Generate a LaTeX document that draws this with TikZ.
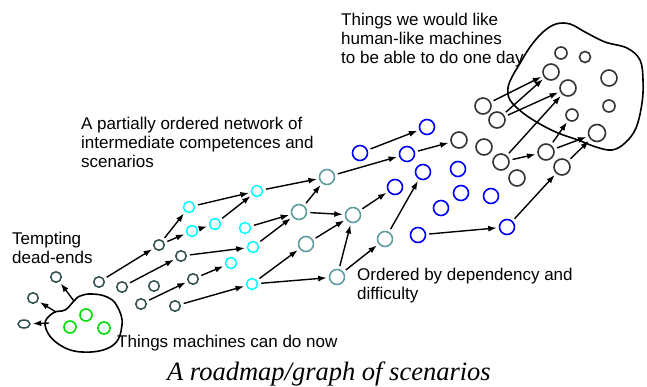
\documentclass[tikz,border=0pt]{standalone}
\usepackage{fontspec}
\setmainfont{Liberation Sans}
\newfontfamily\capfont{Liberation Serif}
\usetikzlibrary{arrows.meta,shapes.geometric}
\definecolor{dslate}{HTML}{2F4F4F}
\definecolor{cadet}{HTML}{5F9EA0}
\definecolor{cyanc}{HTML}{00FFFF}
\definecolor{bluec}{HTML}{0000FF}
\definecolor{greenc}{HTML}{00E000}
\definecolor{blackc}{HTML}{333333}
\tikzset{
  ds/.style={circle,draw=dslate,line width=1.5pt,minimum size=10.5pt,inner sep=0pt},
  cy/.style={circle,draw=cyanc,line width=1.5pt,minimum size=11pt,inner sep=0pt},
  gr/.style={circle,draw=greenc,line width=1.6pt,minimum size=12pt,inner sep=0pt},
  te/.style={circle,draw=cadet,line width=1.6pt,minimum size=15pt,inner sep=0pt},
  bl/.style={circle,draw=bluec,line width=1.6pt,minimum size=15pt,inner sep=0pt},
  bk/.style={circle,draw=blackc,line width=1.6pt,minimum size=16pt,inner sep=0pt},
  arr/.style={-{Latex[length=8.5pt,width=6pt]},line width=1.4pt,shorten >=2pt,shorten <=3pt},
  lbl/.style={anchor=north west,inner sep=0pt,align=left,font=\fontsize{17}{19}\selectfont},
  blob/.style={line width=1.6pt,black}
}
\begin{document}
\begin{tikzpicture}[x=1pt,y=-1pt]
\useasboundingbox (0,0) rectangle (647,386);
% blobs
\draw[blob] plot[smooth cycle,tension=0.7] coordinates{(45,325) (53,313) (65,310) (73,302) (80,296) (92,294) (107,297) (117,306) (122,325) (112,346) (82,352) (57,343)};
\draw[blob] plot[smooth cycle,tension=0.6] coordinates{(519,65) (530,47) (543,32) (556,24) (570,24) (585,32) (605,42) (627,48) (640,60) (643,80) (642,103) (636,128) (625,143) (612,150) (596,147) (578,140) (558,133) (540,124) (523,113) (510,100) (508,88) (512,77)};
\coordinate (o1) at (74,301);
\coordinate (o2) at (56,312);
\coordinate (o3) at (49,323);
% dead ends
\node[ds] (d1) at (56,277) {};
\node[ds] (d2) at (33,298) {};
\node[ellipse,draw=dslate,line width=1.5pt,minimum width=12pt,minimum height=8pt,inner sep=0pt] (d3) at (24,324) {};
% green
\node[gr] (g1) at (86,315) {};
\node[gr] (g2) at (70,327) {};
\node[gr] (g3) at (104,328) {};
% dark small
\node[ds] (A) at (99,282) {};
\node[ds] (B) at (122,287) {};
\node[ds] (C) at (154,286) {};
\node[ds] (D) at (141,304) {};
\node[ds] (E) at (175,306) {};
\node[ds] (F) at (159,245) {};
\node[ds] (G) at (181,256) {};
\node[ds] (H) at (193,279) {};
% cyan
\node[cy] (cy1) at (189,207) {};
\node[cy] (cy2) at (192,231) {};
\node[cy] (c1) at (257,191) {};
\node[cy] (c2) at (215,224) {};
\node[cy] (c3) at (245,228) {};
\node[cy] (c4) at (253,247) {};
\node[cy] (c5) at (231,263) {};
\node[cy] (c6) at (252,284) {};
% teal
\node[te] (t1) at (327,177) {};
\node[te] (t2) at (299,212) {};
\node[te] (t3) at (306,244) {};
\node[te] (t4) at (337,277) {};
\node[te] (t5) at (353,215) {};
\node[te] (t6) at (385,239) {};
% blue
\node[bl] (b1) at (360,153) {};
\node[bl] (b2) at (407,154) {};
\node[bl] (b3) at (427,127) {};
\node[bl] (b4) at (395,187) {};
\node[bl] (b5) at (423,172) {};
\node[bl] (b6) at (458,169) {};
\node[bl] (b7) at (461,193) {};
\node[bl] (b8) at (491,196) {};
\node[bl] (b9) at (441,208) {};
\node[bl] (b10) at (418,235) {};
\node[bl] (b11) at (507,227) {};
% black
\node[bk] (k1) at (459,140) {};
\node[bk] (k2) at (483,106) {};
\node[bk] (k3) at (497,120) {};
\node[bk] (k4) at (484,147) {};
\node[bk] (k5) at (501,162) {};
\node[bk] (k6) at (517,178) {};
\node[bk] (k7) at (546,152) {};
\node[bk] (k8) at (562,167) {};
\node[bk,minimum size=12pt] (i1) at (561,53) {};
\node[bk,minimum size=11pt] (i2) at (585,57) {};
\node[bk] (i3) at (551,72) {};
\node[bk] (i4) at (568,88) {};
\node[bk] (i5) at (609,78) {};
\node[bk,minimum size=12pt] (i6) at (572,115) {};
\node[bk,minimum size=12pt] (i7) at (609,106) {};
\node[bk,minimum size=17pt] (i8) at (597,133) {};
% arrows
\draw[arr,shorten <=0pt] (o1) -- (d1);
\draw[arr,shorten <=0pt] (o2) -- (d2);
\draw[arr,shorten <=0pt] (o3) -- (d3);
\draw[arr] (A) -- (F);
\draw[arr] (B) -- (G);
\draw[arr] (D) -- (H);
\draw[arr] (E) -- (c6);
\draw[arr] (F) -- (cy1);
\draw[arr] (F) -- (cy2);
\draw[arr] (G) -- (c4);
\draw[arr] (H) -- (c5);
\draw[arr] (cy1) -- (c1);
\draw[arr] (cy2) -- (c2);
\draw[arr] (c2) -- (c1);
\draw[arr] (c1) -- (t1);
\draw[arr] (c3) -- (t2);
\draw[arr] (c4) -- (t2);
\draw[arr] (t2) -- (t1);
\draw[arr] (c6) -- (t3);
\draw[arr] (c6) -- (t4);
\draw[arr] (t2) -- (t5);
\draw[arr] (t3) -- (t5);
\draw[arr] (t4) -- (t5);
\draw[arr] (t4) -- (t6);
\draw[arr] (t1) -- (b2);
\draw[arr] (b1) -- (b3);
\draw[arr] (b2) -- (k1);
\draw[arr] (t5) -- (b4);
\draw[arr] (t6) -- (b5);
\draw[arr] (b10) -- (b11);
\draw[arr] (b11) -- (k8);
\draw[arr] (k5) -- (k7);
\draw[arr] (k5) -- (i4);
\draw[arr] (k2) -- (i3);
\draw[arr] (k3) -- (i3);
\draw[arr] (k3) -- (i4);
\draw[arr] (k7) -- (i6);
\draw[arr] (k7) -- (i8);
\draw[arr] (k8) -- (i8);
% labels
\node[lbl] (l1) at (341,13) {Things we would like\\human-like machines\\to be able to do one day};
\node[lbl] (l2) at (81,117) {A partially ordered network of\\intermediate competences and\\scenarios};
\node[lbl] (l3) at (12,232) {Tempting\\dead-ends};
\node[lbl] (l4) at (357,268) {Ordered by dependency and\\difficulty};
\node[lbl] (l5) at (117,335) {Things machines can do now};
\node[anchor=base,inner sep=0pt,font=\capfont\itshape\fontsize{26.5}{30}\selectfont] (cap) at (329,380) {A roadmap/graph of scenarios};
\end{tikzpicture}
\end{document}
